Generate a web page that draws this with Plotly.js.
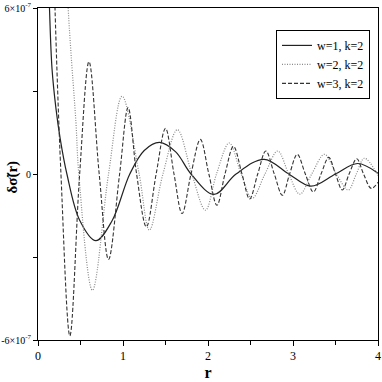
<!DOCTYPE html>
<html>
<head>
<meta charset="utf-8">
<script src="https://cdn.plot.ly/plotly-3.0.1.min.js"></script>
<style>
  html, body { margin: 0; padding: 0; background: #fff; }
  #chart { width: 382px; height: 382px; }
</style>
</head>
<body>
<div id="chart"></div>
<script>
// values, y in units of 1e-7
const r1 = [0.10, 0.135, 0.165, 0.21, 0.26, 0.34, 0.49, 0.68, 0.87, 1.08, 1.25, 1.43, 1.62, 1.80, 2.07, 2.33, 2.66, 2.95, 3.21, 3.50, 3.76, 4.00];
const s1 = [10.0, 6.0, 3.8, 2.4, 1.3, 0.0, -1.67, -2.41, -1.7, 0.0, 0.85, 1.14, 0.8, 0.0, -0.74, 0.0, 0.53, 0.0, -0.44, 0.0, 0.38, 0.03];

const r2 = [0.33, 0.355, 0.39, 0.446, 0.48, 0.64, 0.83, 0.99, 1.19, 1.31, 1.47, 1.64, 1.81, 1.97, 2.10, 2.25, 2.39, 2.52, 2.67, 2.82, 2.95, 3.08, 3.22, 3.37, 3.51, 3.65, 3.745, 3.84, 4.00];
const s2 = [8.0, 6.0, 4.29, 1.88, 0.0, -4.2, 0.0, 2.81, 0.0, -2.03, 0.0, 1.6, 0.0, -1.31, 0.0, 1.12, 0.0, -0.88, 0.0, 0.83, 0.0, -0.73, 0.0, 0.71, 0.0, -0.58, 0.0, 0.57, -0.05];

const r3 = [0.185, 0.20, 0.27, 0.375, 0.49, 0.60, 0.72, 0.83, 0.96, 1.06, 1.16, 1.275, 1.39, 1.50, 1.60, 1.695, 1.80, 1.91, 2.01, 2.105, 2.20, 2.30, 2.40, 2.49, 2.585, 2.68, 2.78, 2.875, 2.96, 3.05, 3.145, 3.24, 3.33, 3.42, 3.50, 3.58, 3.66, 3.75, 3.83, 3.92, 4.00];
const s3 = [8.0, 6.0, 0.0, -5.85, 0.0, 4.06, 0.0, -3.09, 0.0, 2.4, 0.0, -1.91, 0.0, 1.65, 0.0, -1.43, 0.0, 1.25, 0.0, -1.13, 0.0, 1.0, 0.0, -0.9, 0.0, 0.83, 0.0, -0.77, 0.0, 0.71, 0.0, -0.65, 0.0, 0.6, 0.0, -0.58, 0.0, 0.55, 0.0, -0.52, -0.3];

const names = ["w=1, k=2", "w=2, k=2", "w=3, k=2"];
const yTickVals = [-6, 0, 6];
const yTickText = ["-6×10<sup>-7</sup>", "0", "6×10<sup>-7</sup>"];

const serif = "'Liberation Serif', 'Times New Roman', Times, serif";

const trace1 = {
    x: r1, y: s1, mode: "lines", name: names[0],
    line: { color: "#222", width: 1.2, shape: "spline", smoothing: 1 },
};
const trace2 = {
    x: r2, y: s2, mode: "lines", name: names[1],
    line: { color: "#8a8a8a", width: 1.2, dash: "1px,1.5px", shape: "spline", smoothing: 1 },
};
const trace3 = {
    x: r3, y: s3, mode: "lines", name: names[2],
    line: { color: "#333", width: 1.1, dash: "4px,2px", shape: "spline", smoothing: 1 },
};

const layout = {
    width: 382,
    height: 382,
    margin: { l: 38, r: 4, t: 8, b: 42 },
    paper_bgcolor: "#fff",
    plot_bgcolor: "#fff",
    font: { family: serif, size: 11, color: "#000" },
    showlegend: true,
    legend: {
        x: 0.70, y: 0.934, xanchor: "left", yanchor: "top",
        bordercolor: "#000", borderwidth: 1, bgcolor: "#fff",
        font: { family: serif, size: 12, color: "#000" },
        itemwidth: 30,
        tracegroupgap: 0,
    },
    xaxis: {
        range: [0, 4],
        dtick: 1,
        ticks: "outside", ticklen: 5, tickcolor: "#000",
        minor: { dtick: 0.5, ticks: "outside", ticklen: 4, tickcolor: "#000" },
        showline: true, linecolor: "#000", linewidth: 1, mirror: true,
        showgrid: false, zeroline: false,
        tickfont: { family: serif, size: 12 },
        title: { text: "<b>r</b>", font: { family: serif, size: 16 }, standoff: 4 },
    },
    yaxis: {
        range: [-6, 6],
        tickmode: "array", tickvals: yTickVals, ticktext: yTickText,
        ticks: "outside", ticklen: 4, tickcolor: "#000",
        ticklabelstandoff: 0,
        minor: { tickmode: "array", tickvals: [-3, 3], ticks: "outside", ticklen: 4, tickcolor: "#000" },
        showline: true, linecolor: "#000", linewidth: 1, mirror: true,
        showgrid: false, zeroline: false,
        tickfont: { family: serif, size: 10 },
    },
    annotations: [{
        text: "<b>δσ̃(r)</b>",
        xref: "paper", yref: "paper", x: -0.076, y: 0.49,
        xanchor: "center", yanchor: "middle",
        textangle: -90, showarrow: false,
        font: { family: serif, size: 15, color: "#000" },
    }],
};

Plotly.newPlot("chart", [trace1, trace2, trace3], layout, { staticPlot: true });
</script>
</body>
</html>
